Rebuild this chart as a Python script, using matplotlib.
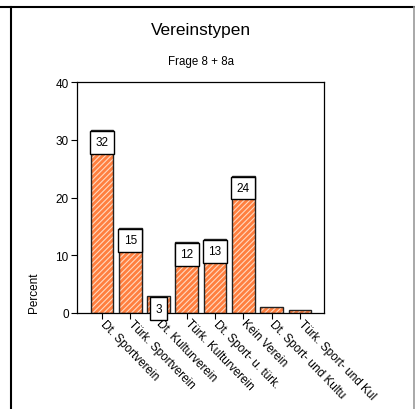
import matplotlib
matplotlib.use("Agg")
import matplotlib.pyplot as plt
from matplotlib.lines import Line2D
import matplotlib.transforms as mtransforms

plt.rcParams['font.family'] = ['Liberation Sans', 'DejaVu Sans']
plt.rcParams['hatch.linewidth'] = 0.8

categories = ["Dt. Sportverein", "Türk. Sportverein", "Dt. Kulturverein",
              "Türk. Kulturverein", "Dt. Sport- u. türk.", "Kein Verein",
              "Dt. Sport- und Kultu", "Türk. Sport- und Kul"]
values = [31.7, 14.7, 2.9, 12.3, 12.8, 23.8, 1.0, 0.5]
labels = ["32", "15", "3", "12", "13", "24", None, None]
yticks = [0, 10, 20, 30, 40]

W, H = 415, 410
fig = plt.figure(figsize=(W / 100, H / 100), dpi=100)
ax = fig.add_axes([77 / W, 1 - 314 / H, (324 - 77) / W, (314 - 83) / H])

x = list(range(len(categories)))
ax.bar(x, values, width=0.8, color="#ff7f3f", edgecolor="#ffd9c0", hatch="//////", linewidth=0, zorder=2)
ax.bar(x, values, width=0.8, fill=False, edgecolor="#222222", linewidth=1.0, zorder=3)

for xi, v, lab in zip(x, values, labels):
    if lab is None:
        continue
    ax.annotate(lab, xy=(xi, v), xytext=(0, -4.6), textcoords="offset points",
                ha="center", va="top", fontsize=8.5, zorder=5,
                bbox=dict(boxstyle="square,pad=0.45", facecolor="white", edgecolor="black", linewidth=1.0))

ax.set_xlim(-0.88, 7.85)
ax.set_ylim(0, 40)
ax.set_yticks(yticks)
ax.set_yticklabels([str(t) for t in yticks], fontsize=8.5)
ax.set_xticks(x)
ax.set_xticklabels(categories, rotation=-46, ha="left", va="center", rotation_mode="anchor", fontsize=8.5)
offset = mtransforms.ScaledTranslation(3 / 100, -4 / 100, fig.dpi_scale_trans)
for lbl in ax.get_xticklabels():
    lbl.set_transform(lbl.get_transform() + offset)
ax.tick_params(axis="both", direction="out", length=4, width=0.8, pad=2)
for s in ax.spines.values():
    s.set_linewidth(0.9)
ax.set_ylabel("Percent", fontsize=8.5)
ax.yaxis.set_label_coords(-0.15, 0.09)

fig.text(201 / W, 1 - 31 / H, "Vereinstypen", ha="center", va="center", fontsize=12.4)
fig.text(201 / W, 1 - 62 / H, "Frage 8 + 8a", ha="center", va="center", fontsize=8.3)

# outer frame
fig.add_artist(Line2D([0, 1], [1 - 8 / H, 1 - 8 / H], transform=fig.transFigure, color="black", linewidth=1.5))
fig.add_artist(Line2D([11 / W, 11 / W], [0, 1 - 8 / H], transform=fig.transFigure, color="black", linewidth=1.5))
fig.add_artist(Line2D([413.5 / W, 413.5 / W], [0, 1 - 8 / H], transform=fig.transFigure, color="#999999", linewidth=1.2))

fig.savefig("out.png", dpi=100)
